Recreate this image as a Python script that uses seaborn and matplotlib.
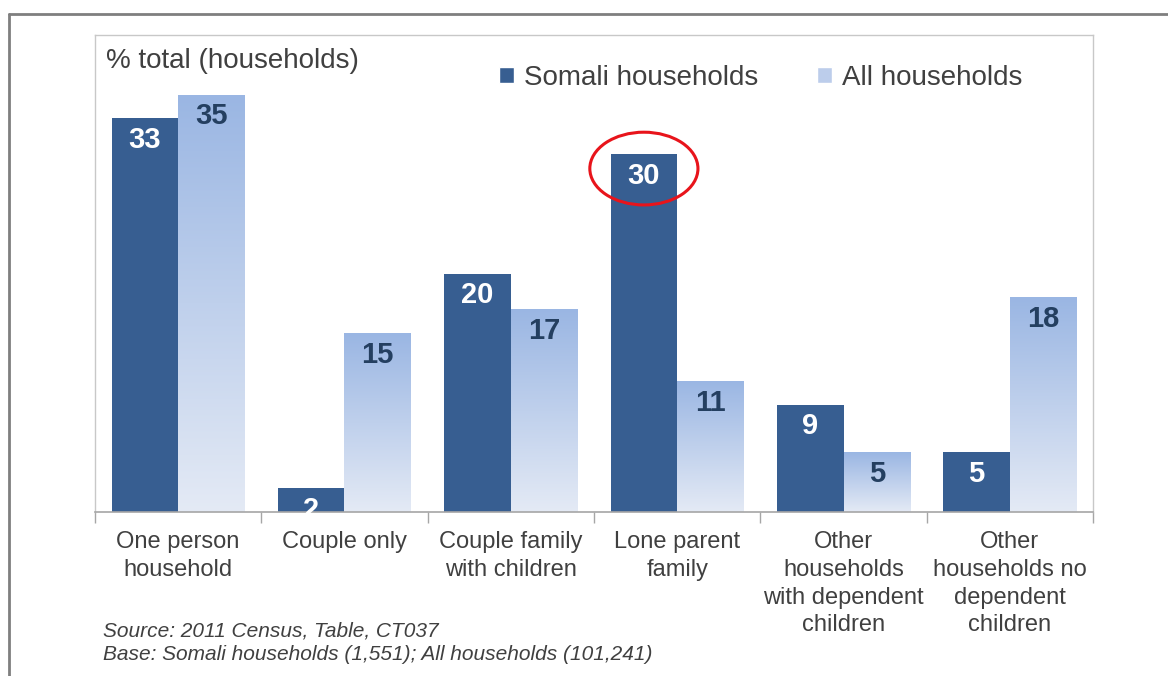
import numpy as np
import pandas as pd
import matplotlib
matplotlib.use("Agg")
import matplotlib.pyplot as plt
import seaborn as sns
from matplotlib.patches import Ellipse, Patch
from matplotlib.lines import Line2D
from matplotlib.colors import LinearSegmentedColormap

categories = ["One person\nhousehold", "Couple only", "Couple family\nwith children",
              "Lone parent\nfamily", "Other\nhouseholds\nwith dependent\nchildren",
              "Other\nhouseholds no\ndependent\nchildren"]
somali = [33, 2, 20, 30, 9, 5]
all_households = [35, 15, 17, 11, 5, 18]
series = ["Somali households", "All households"]

dark_blue = "#375E91"
light_top = "#9AB6E3"
light_bottom = "#E4EAF5"
text_grey = "#404040"

df = pd.DataFrame({
    "category": categories * 2,
    "value": somali + all_households,
    "series": [series[0]] * len(categories) + [series[1]] * len(categories),
})

sns.set_style("white")
plt.rcParams["font.family"] = ["Liberation Sans", "DejaVu Sans"]

fig = plt.figure(figsize=(11.68, 6.76), dpi=100)
ax = fig.add_axes([0.0813, 0.2426, 0.8545, 0.7056])

sns.barplot(data=df, x="category", y="value", hue="series", hue_order=series,
            palette=[dark_blue, light_top], saturation=1, width=0.8, gap=0, ax=ax,
            legend=False, edgecolor="none", linewidth=0)

# gradient fill for the "All households" bars, per bar like Excel
cmap = LinearSegmentedColormap.from_list("grad", [light_bottom, light_top])
grad = np.linspace(0, 1, 256).reshape(-1, 1)
n = len(categories)
for i, patch in enumerate(ax.patches[:2 * n]):
    x0 = patch.get_x()
    w = patch.get_width()
    h = patch.get_height()
    if i >= n:
        patch.set_facecolor("none")
        im = ax.imshow(grad, cmap=cmap, origin="lower", aspect="auto",
                       extent=(x0, x0 + w, 0, h), zorder=patch.get_zorder())
        im.set_clip_path(patch)
        label_color = "#243F60"
    else:
        label_color = "white"
    ax.text(x0 + w / 2, h - 0.65, str(int(round(h))), ha="center", va="top",
            fontsize=21, fontweight="bold", color=label_color, zorder=5)

ax.set_xlim(-0.5, n - 0.5)
ax.set_ylim(0, 40)

# axes styling
ax.set_xlabel("")
ax.set_ylabel("")
ax.set_yticks([])
ax.set_xticks(range(n))
ax.set_xticklabels(categories, fontsize=17, color=text_grey, linespacing=1.33)
ax.set_xticks(np.arange(-0.5, n, 1.0), minor=True)
ax.tick_params(axis="x", which="major", length=0, pad=14)
ax.tick_params(axis="x", which="minor", length=8, width=1, color="#A6A6A6", bottom=True)
for side in ["top", "right", "left"]:
    ax.spines[side].set_color("#C8C8C8")
    ax.spines[side].set_linewidth(1)
ax.spines["bottom"].set_color("#A6A6A6")
ax.spines["bottom"].set_linewidth(1.2)

ax.text(0.011, 0.946, "% total (households)", transform=ax.transAxes,
        fontsize=20, color=text_grey, ha="left", va="center")

handles = [Patch(facecolor=dark_blue), Patch(facecolor="#BCCDEB")]
ax.legend(handles, series, loc="upper left", bbox_to_anchor=(0.38, 0.99),
          ncol=2, frameon=False, fontsize=20, handlelength=0.55, handleheight=0.55,
          handletextpad=0.35, columnspacing=2.1, labelcolor=text_grey)

# red ellipse around the lone parent figure
ax.add_patch(Ellipse((3 - 0.2, 28.8), width=0.65, height=6.1, fill=False,
                     edgecolor="#E8141B", linewidth=2.2, zorder=6))

fig.text(103 / 1168, 1 - 631 / 676, "Source: 2011 Census, Table, CT037",
         fontsize=15, style="italic", color=text_grey, va="center")
fig.text(103 / 1168, 1 - 655 / 676, "Base: Somali households (1,551); All households (101,241)",
         fontsize=15, style="italic", color=text_grey, va="center")

# outer frame lines
fig.add_artist(Line2D([9 / 1168, 1], [1 - 14 / 676, 1 - 14 / 676],
                      transform=fig.transFigure, color="#7F7F7F", linewidth=2))
fig.add_artist(Line2D([9 / 1168, 9 / 1168], [0, 1 - 14 / 676],
                      transform=fig.transFigure, color="#7F7F7F", linewidth=2))

fig.savefig("out.png", dpi=100)
